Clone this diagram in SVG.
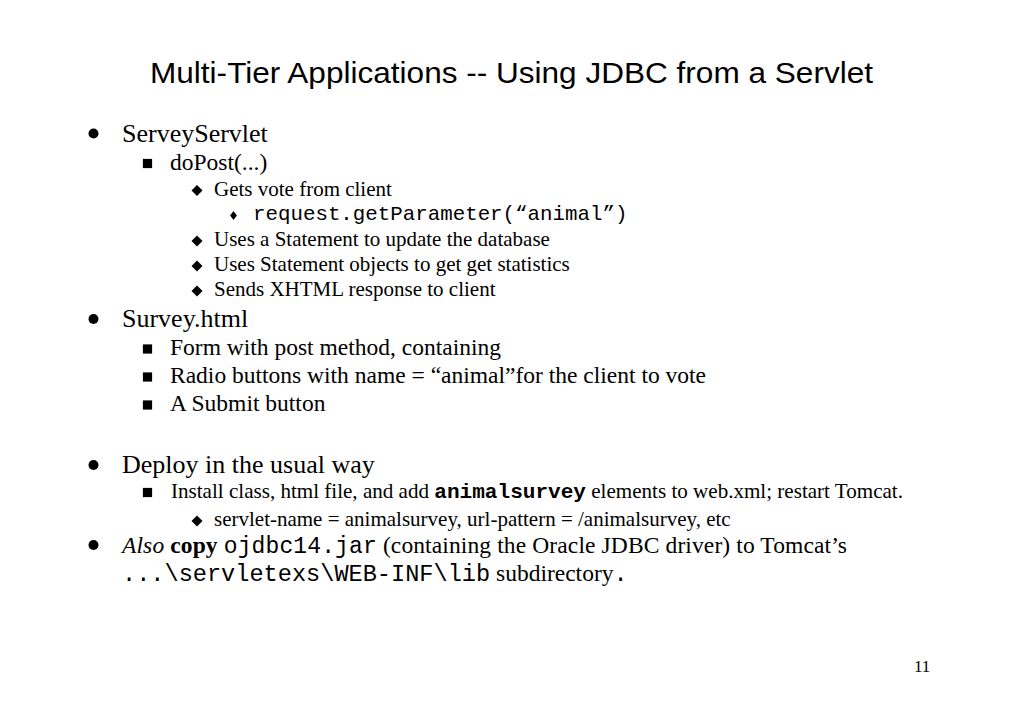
<svg xmlns="http://www.w3.org/2000/svg" width="1023" height="708" viewBox="0 0 1023 708">
<style>
.t{font-family:"Liberation Sans",Arial,sans-serif;fill:#000}
.s{font-family:"Liberation Serif","Times New Roman",serif;fill:#000}
.m{font-family:"Liberation Mono","Courier New",monospace}
.l1{font-size:26px}
.l2{font-size:23.5px}
.l3{font-size:21px}
.b{fill:#000}
</style>
<defs>
<circle id="dot" r="5" class="b"/>
<rect id="sq" x="-4.6" y="-4.6" width="9.2" height="9.2" class="b"/>
<path id="dia" d="M0,-5.5 L5.5,0 L0,5.5 L-5.5,0 Z" class="b"/>
<path id="dia4" d="M0,-4.6 L3.4,0 L0,4.6 L-3.4,0 Z" class="b"/>
</defs>
<rect width="1023" height="708" fill="#fff"/>
<text id="title" class="t" x="150" y="83" font-size="29.4" textLength="723" lengthAdjust="spacingAndGlyphs">Multi-Tier Applications -- Using JDBC from a Servlet</text>

<g id="servlet">
<use href="#dot" x="93.5" y="133.5"/>
<text class="s l1" x="122" y="141.5">ServeyServlet</text>
<use href="#sq" x="147.5" y="163.5"/>
<text class="s l2" x="170" y="169.5">doPost(...)</text>
<use href="#dia" x="197" y="190.5"/>
<text class="s l3" x="214" y="195.5">Gets vote from client</text>
<use href="#dia4" x="233.5" y="215.5"/>
<text class="m" font-size="20.8" x="253" y="219.5">request.getParameter(“animal”)</text>
<use href="#dia" x="197" y="241"/>
<text class="s l3" x="214" y="246">Uses a Statement to update the database</text>
<use href="#dia" x="197" y="266"/>
<text class="s l3" x="214" y="271">Uses Statement objects to get get statistics</text>
<use href="#dia" x="197" y="291"/>
<text class="s l3" x="214" y="296">Sends XHTML response to client</text>
</g>

<g id="survey">
<use href="#dot" x="93.5" y="319"/>
<text class="s l1" x="122" y="327">Survey.html</text>
<use href="#sq" x="147.5" y="349"/>
<text class="s l2" x="170" y="355">Form with post method, containing</text>
<use href="#sq" x="147.5" y="377"/>
<text class="s l2" x="170" y="383">Radio buttons with name = “animal”for the client to vote</text>
<use href="#sq" x="147.5" y="405"/>
<text class="s l2" x="170" y="411">A Submit button</text>
</g>

<g id="deploy">
<use href="#dot" x="93.5" y="465"/>
<text class="s l1" x="122" y="473">Deploy in the usual way</text>
<use href="#sq" x="147.5" y="492.5"/>
<text class="s l3" x="171" y="498" textLength="732" lengthAdjust="spacingAndGlyphs">Install class, html file, and add <tspan class="m" font-weight="bold">animalsurvey</tspan> elements to web.xml; restart Tomcat.</text>
<use href="#dia" x="197" y="521"/>
<text class="s l3" x="214" y="526">servlet-name = animalsurvey, url-pattern = /animalsurvey, etc</text>
</g>

<g id="also">
<use href="#dot" x="93.5" y="545"/>
<text class="s l2" x="122" y="553" textLength="725" lengthAdjust="spacing"><tspan font-style="italic">Also</tspan> <tspan font-weight="bold">copy</tspan> <tspan class="m" font-size="23">ojdbc14.jar</tspan> (containing the Oracle JDBC driver) to Tomcat’s</text>
<text class="s l2" x="122" y="581"><tspan class="m" font-size="23.6">...\servletexs\WEB-INF\lib</tspan> subdirectory<tspan class="m" font-size="23.6">.</tspan></text>
</g>

<text id="page" class="s" x="914" y="672" font-size="17">11</text>
</svg>
